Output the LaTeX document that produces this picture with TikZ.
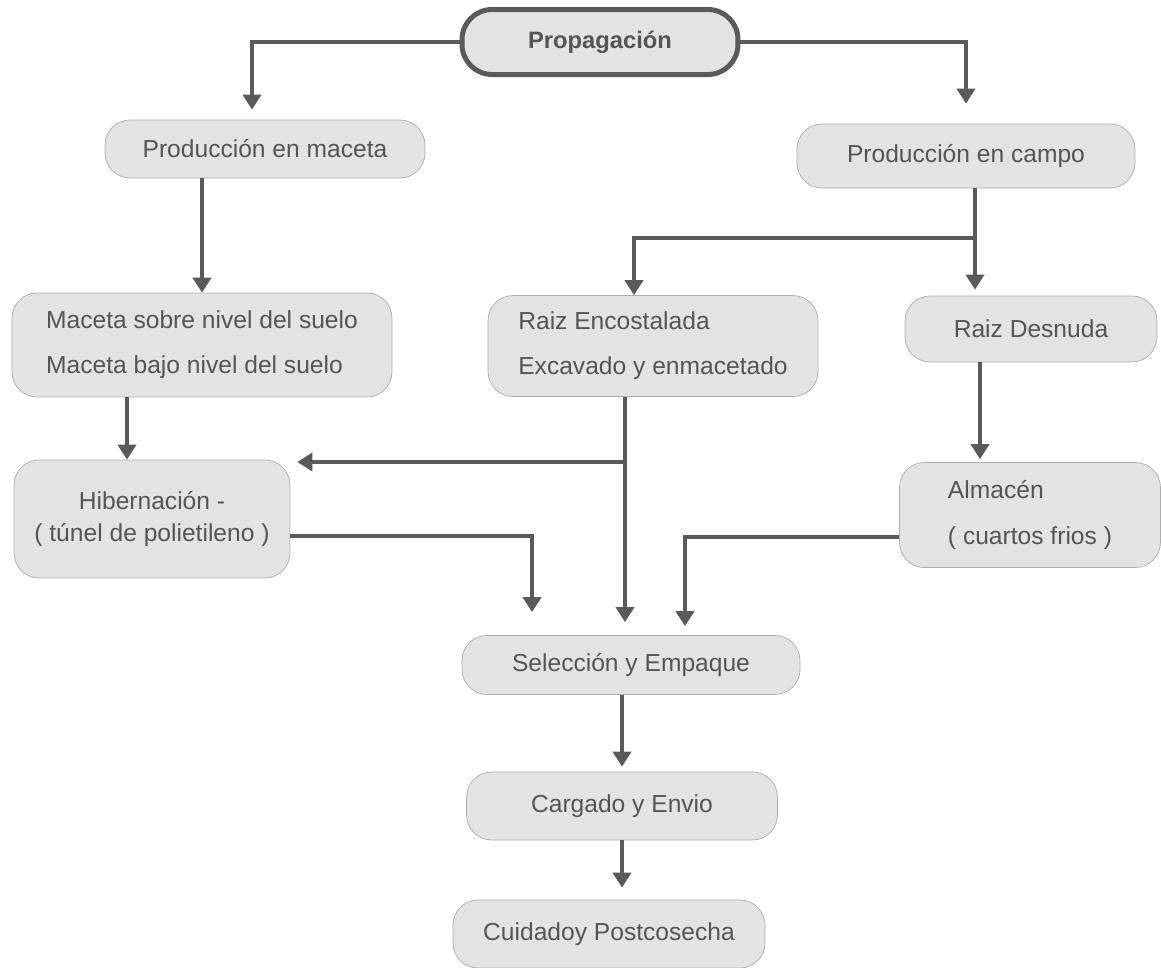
\documentclass[tikz,border=0pt]{standalone}
\usepackage{fontspec}
\setmainfont{Liberation Sans}
\usetikzlibrary{arrows.meta}

\definecolor{linegray}{HTML}{5A5A5A}
\definecolor{textgray}{HTML}{555555}
\definecolor{boxgray}{HTML}{E3E3E3}

\tikzset{
  etapa/.style={draw=gray!65, fill=boxgray, rounded corners=0.5cm, text=textgray,
    font=\fontsize{14}{16}\selectfont, inner sep=0pt},
  flecha/.style={draw=linegray, line width=0.08cm, -{Triangle[width=0.36cm,length=0.3cm]}, shorten >=0.2cm},
  linea/.style={draw=linegray, line width=0.08cm},
}

\begin{document}
\begin{tikzpicture}[x=0.02cm,y=-0.02cm]
\useasboundingbox (0,0) rectangle (1161,968);

% Stages of the process
\node[etapa, draw=linegray, line width=0.1cm, rounded corners=0.6cm, minimum width=5.52cm, minimum height=1.3cm,
  font=\fontsize{13.5}{16}\selectfont\bfseries] (prop) at (600,42) {Propagación};
\node[etapa, minimum width=6.4cm, minimum height=1.16cm] (mprod) at (265,149) {Producción en maceta};
\node[etapa, minimum width=6.76cm, minimum height=1.28cm] (cprod) at (966,156) {Producción en campo};
\node[etapa, minimum width=7.6cm, minimum height=2.08cm, align=left] (msuelo) at (202,345)
  {Maceta sobre nivel del suelo\\[0.34cm]Maceta bajo nivel del suelo};
\node[etapa, minimum width=6.6cm, minimum height=2.02cm, align=left] (rencost) at (653,346)
  {Raiz Encostalada\\[0.34cm]Excavado y enmacetado};
\node[etapa, minimum width=5.04cm, minimum height=1.32cm] (rdesn) at (1031,329) {Raiz Desnuda};
\node[etapa, minimum width=5.52cm, minimum height=2.36cm, align=center] (hiber) at (152,519)
  {Hibernación -\\[0.08cm]( túnel de polietileno )};
\node[etapa, minimum width=5.22cm, minimum height=2.1cm, align=left] (almac) at (1030,515)
  {Almacén\\[0.34cm]( cuartos frios )};
\node[etapa, minimum width=6.76cm, minimum height=1.18cm] (selec) at (631,665) {Selección y Empaque};
\node[etapa, minimum width=6.22cm, minimum height=1.36cm] (carga) at (622,806) {Cargado y Envio};
\node[etapa, minimum width=6.24cm, minimum height=1.36cm] (cuida) at (609,934) {Cuidadoy Postcosecha};

% Branch points
\coordinate (jc) at (975,238);
\coordinate (jr) at (625,462);

% Connectors
\draw[flecha] (prop.west) -| ([xshift=-0.26cm]mprod.north);
\draw[flecha, shorten >=0.4cm] (prop.east) -| (cprod.north);
\draw[flecha, shorten >=0pt] (msuelo.north |- mprod.south) -- (msuelo.north);
\draw[flecha, shorten >=0pt] ([xshift=-1.5cm]msuelo.south) -- ([xshift=-1.5cm]msuelo.south |- hiber.north);
\draw[linea] (jc |- cprod.south) -- (jc);
\draw[flecha, shorten >=0.12cm] (jc) -- (jc |- rdesn.north);
\draw[flecha, shorten >=0pt] (jc) -| ([xshift=-0.38cm]rencost.north);
\draw[flecha, shorten >=0.26cm] (jr |- rencost.south) -- (jr |- selec.north);
\draw[flecha, shorten >=0.14cm] (jr) -- (jr -| hiber.east);
\draw[flecha, shorten >=0.46cm] ([yshift=-0.34cm]hiber.east) -| ([xshift=-1.98cm]selec.north);
\draw[flecha, shorten >=0.18cm] ([yshift=-0.44cm]almac.west) -| ([xshift=1.08cm]selec.north);
\draw[flecha, shorten >=0.06cm] ([xshift=-1.02cm]rdesn.south) -- ([xshift=-1.02cm]rdesn.south |- almac.north);
\draw[flecha, shorten >=0.1cm] (carga.north |- selec.south) -- (carga.north);
\draw[flecha, shorten >=0.24cm] (carga.south) -- (carga.south |- cuida.north);
\end{tikzpicture}
\end{document}
